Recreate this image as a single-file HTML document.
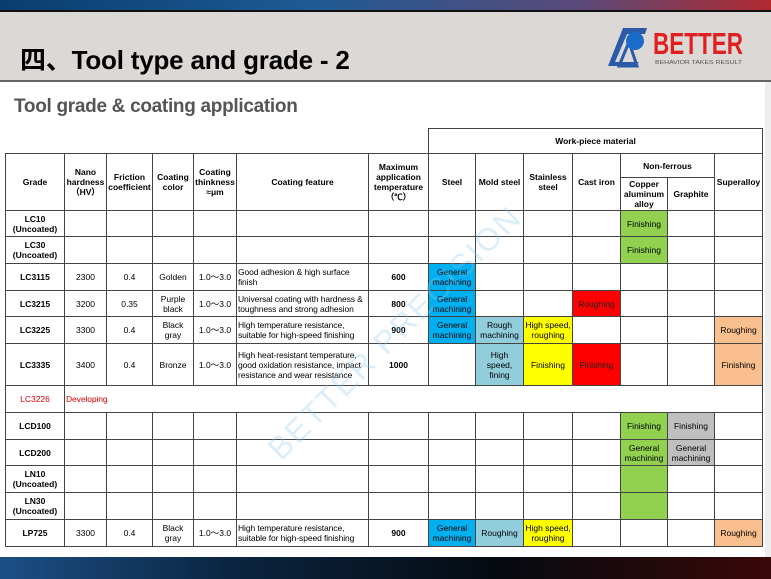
<!DOCTYPE html>
<html><head><meta charset="utf-8"><style>
body{margin:0;width:771px;height:579px;overflow:hidden;background:#fff;font-family:"Liberation Sans",Arial,sans-serif;position:relative}
.top{position:absolute;left:0;top:0;width:771px;height:10px;background:linear-gradient(90deg,#0a3d6e,#1e5a94 40%,#5a4a7a 75%,#b02a30)}
.tl{position:absolute;left:0;top:10px;width:771px;height:2px;background:#111}
.hdr{position:absolute;left:0;top:12px;width:771px;height:68px;background:#dcd8d5}
.hl{position:absolute;left:0;top:80px;width:771px;height:2px;background:#666}
.title{position:absolute;left:20px;top:40px;font:bold 26px "Liberation Sans","Noto Sans CJK SC",sans-serif;color:#000;letter-spacing:-0.2px}
.sub{position:absolute;left:14px;top:96px;font:bold 19px "Liberation Sans",sans-serif;color:#555;letter-spacing:-0.3px}
.bot{position:absolute;left:0;top:557px;width:771px;height:22px;background:linear-gradient(90deg,#1c4f86,#0a2540 30%,#050a10 65%,#3a0808)}
.rs{position:absolute;left:765px;top:82px;width:6px;height:475px;background:#eeeeee}
table{position:absolute;left:5px;top:128px;border-collapse:collapse;table-layout:fixed;width:757px}
td{border:1px solid #444;font-size:8.5px;text-align:center;vertical-align:middle;padding:0;line-height:10px;overflow:hidden}
td.n{border:none}
.b{font-weight:bold}
.l{text-align:left;padding-left:1px;letter-spacing:-0.1px}
.bl{background:#00b0f0}.lb{background:#92cddc}.ye{background:#ffff00}.re{background:#ff0000;color:#222}.gr{background:#92d050}.gy{background:#bfbfbf}.pe{background:#fabf8f}
.red{color:#e00000}
.wm{position:absolute;left:395px;top:333px;transform:translate(-50%,-50%) rotate(-45deg);font:32px "Liberation Sans",sans-serif;color:rgba(140,200,235,0.3);white-space:nowrap;letter-spacing:2px}
</style></head><body>
<div class="top"></div><div class="tl"></div><div class="hdr"></div><div class="hl"></div>
<div class="title">四、Tool type and grade - 2</div>
<svg style="position:absolute;left:605px;top:24px" width="140" height="46">
<polygon points="3,42 18,4 42,4 40,10 22,10 10,38 34,38 30,42" fill="#2a5aa8"/>
<polygon points="14,42 24,18 32,42" fill="none" stroke="#2a5aa8" stroke-width="3"/>
<circle cx="30" cy="17" r="9" fill="#1a6cc8"/>
<text x="48" y="30" font-family="Liberation Sans Narrow,Liberation Sans" font-weight="bold" font-size="31" fill="#e02020" textLength="90" lengthAdjust="spacingAndGlyphs">BETTER</text>
<text x="50" y="40" font-family="Liberation Sans" font-size="5.5" fill="#555" textLength="87" lengthAdjust="spacingAndGlyphs">BEHAVIOR TAKES RESULT</text>
</svg>
<div class="sub">Tool grade &amp; coating application</div>
<div class="rs"></div>
<table>
<colgroup><col style="width:59px"><col style="width:42px"><col style="width:46px"><col style="width:41px"><col style="width:43px"><col style="width:132px"><col style="width:60px"><col style="width:47px"><col style="width:48px"><col style="width:49px"><col style="width:48px"><col style="width:47px"><col style="width:47px"><col style="width:48px"></colgroup>
<tr style="height:25px"><td class="n"></td><td class="n"></td><td class="n"></td><td class="n"></td><td class="n"></td><td class="n"></td><td class="n"></td><td colspan="7" class="b">Work-piece material</td></tr>
<tr style="height:24px"><td rowspan="2" class="b">Grade</td><td rowspan="2" class="b">Nano hardness （HV）</td><td rowspan="2" class="b">Friction coefficient</td><td rowspan="2" class="b">Coating color</td><td rowspan="2" class="b">Coating thinkness ≈μm</td><td rowspan="2" class="b">Coating feature</td><td rowspan="2" class="b">Maximum application temperature （℃）</td><td rowspan="2" class="b">Steel</td><td rowspan="2" class="b">Mold steel</td><td rowspan="2" class="b">Stainless steel</td><td rowspan="2" class="b">Cast iron</td><td colspan="2" class="b">Non-ferrous</td><td rowspan="2" class="b">Superalloy</td></tr>
<tr style="height:33px"><td class="b">Copper aluminum alloy</td><td class="b">Graphite</td></tr>
<tr style="height:26px"><td class="b">LC10 (Uncoated)</td><td></td><td></td><td></td><td></td><td></td><td></td><td></td><td></td><td></td><td></td><td class="gr">Finishing</td><td></td><td></td></tr>
<tr style="height:27px"><td class="b">LC30 (Uncoated)</td><td></td><td></td><td></td><td></td><td></td><td></td><td></td><td></td><td></td><td></td><td class="gr">Finishing</td><td></td><td></td></tr>
<tr style="height:27px"><td class="b">LC3115</td><td>2300</td><td>0.4</td><td>Golden</td><td>1.0～3.0</td><td class="l">Good adhesion &amp; high surface finish</td><td class="b">600</td><td class="bl">General machining</td><td></td><td></td><td></td><td></td><td></td><td></td></tr>
<tr style="height:26px"><td class="b">LC3215</td><td>3200</td><td>0.35</td><td>Purple black</td><td>1.0～3.0</td><td class="l">Universal coating with hardness &amp; toughness and strong adhesion</td><td class="b">800</td><td class="bl">General machining</td><td></td><td></td><td class="re">Roughing</td><td></td><td></td><td></td></tr>
<tr style="height:27px"><td class="b">LC3225</td><td>3300</td><td>0.4</td><td>Black<br>gray</td><td>1.0～3.0</td><td class="l">High temperature resistance, suitable for high-speed finishing</td><td class="b">900</td><td class="bl">General machining</td><td class="lb">Rough machining</td><td class="ye">High speed, roughing</td><td></td><td></td><td></td><td class="pe">Roughing</td></tr>
<tr style="height:42px"><td class="b">LC3335</td><td>3400</td><td>0.4</td><td>Bronze</td><td>1.0～3.0</td><td class="l">High heat-resistant temperature, good oxidation resistance, impact resistance and wear resistance</td><td class="b">1000</td><td></td><td class="lb">High<br>speed,<br>fining</td><td class="ye">Finishing</td><td class="re">Finishing</td><td></td><td></td><td class="pe">Finishing</td></tr>
<tr style="height:27px"><td class="red">LC3226</td><td colspan="13" class="l red" style="padding-left:1px">Developing</td></tr>
<tr style="height:27px"><td class="b">LCD100</td><td></td><td></td><td></td><td></td><td></td><td></td><td></td><td></td><td></td><td></td><td class="gr">Finishing</td><td class="gy">Finishing</td><td></td></tr>
<tr style="height:26px"><td class="b">LCD200</td><td></td><td></td><td></td><td></td><td></td><td></td><td></td><td></td><td></td><td></td><td class="gr">General machining</td><td class="gy">General machining</td><td></td></tr>
<tr style="height:27px"><td class="b">LN10 (Uncoated)</td><td></td><td></td><td></td><td></td><td></td><td></td><td></td><td></td><td></td><td></td><td class="gr"></td><td></td><td></td></tr>
<tr style="height:27px"><td class="b">LN30 (Uncoated)</td><td></td><td></td><td></td><td></td><td></td><td></td><td></td><td></td><td></td><td></td><td class="gr"></td><td></td><td></td></tr>
<tr style="height:27px"><td class="b">LP725</td><td>3300</td><td>0.4</td><td>Black<br>gray</td><td>1.0～3.0</td><td class="l">High temperature resistance, suitable for high-speed finishing</td><td class="b">900</td><td class="bl">General machining</td><td class="lb">Roughing</td><td class="ye">High speed, roughing</td><td></td><td></td><td></td><td class="pe">Roughing</td></tr>
</table>
<div class="wm">BETTER PRECISION</div>
<div class="bot"></div>
</body></html>
